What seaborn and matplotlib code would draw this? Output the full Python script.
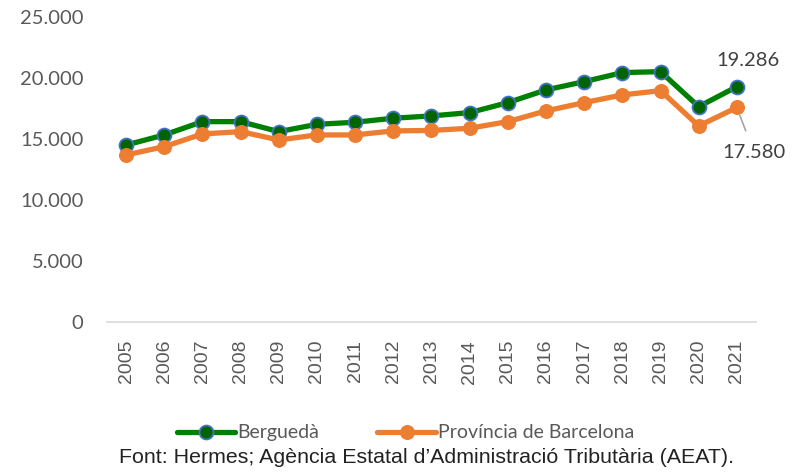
import pandas as pd
import seaborn as sns
import matplotlib.pyplot as plt
from matplotlib.ticker import FuncFormatter

years = [str(y) for y in range(2005, 2022)]
bergueda = [14500, 15330, 16420, 16420, 15600, 16200, 16370, 16700, 16890,
            17160, 17980, 19020, 19700, 20440, 20520, 17650, 19286]
barcelona = [13690, 14370, 15410, 15600, 14920, 15330, 15330, 15660, 15700,
             15880, 16420, 17300, 17980, 18610, 18960, 16070, 17580]

df = pd.DataFrame({
    'Any': years * 2,
    'Valor': bergueda + barcelona,
    'Serie': ['Berguedà'] * len(years) + ['Província de Barcelona'] * len(years),
})

sns.set_style("white")
plt.rcParams['font.family'] = ['Lato', 'DejaVu Sans']

fig = plt.figure(figsize=(8.08, 4.72), dpi=100)
ax = fig.add_axes([0.1324, 0.318, 0.8032, 0.646])

green = '#008000'
orange = '#ED7D31'

sns.lineplot(data=df[df['Serie'] == 'Berguedà'], x='Any', y='Valor', ax=ax,
             color=green, linewidth=3.8, marker='o', markersize=10,
             markerfacecolor='#006400', markeredgecolor='#4472C4',
             markeredgewidth=1.3, label='Berguedà', sort=False)
sns.lineplot(data=df[df['Serie'] == 'Província de Barcelona'], x='Any', y='Valor', ax=ax,
             color=orange, linewidth=3.8, marker='o', markersize=10,
             markerfacecolor=orange, markeredgecolor=orange,
             label='Província de Barcelona', sort=False)

ax.set_xlim(-0.5, len(years) - 0.5)
ax.set_ylim(0, 25000)
ax.set_yticks(range(0, 25001, 5000))
ax.yaxis.set_major_formatter(FuncFormatter(lambda v, p: f'{int(v):,}'.replace(',', '.')))
ax.set_xlabel('')
ax.set_ylabel('')
ax.tick_params(axis='y', labelsize=14.5, labelcolor='#595959', length=0, pad=17)
ax.tick_params(axis='x', labelsize=14, labelcolor='#595959', length=0, rotation=90, pad=13)
for lab in ax.get_xticklabels():
    lab.set_family(['Liberation Sans'])

for s in ['top', 'right', 'left']:
    ax.spines[s].set_visible(False)
ax.spines['bottom'].set_color('#D9D9D9')
ax.spines['bottom'].set_linewidth(1.2)

# data labels for the last year
last = len(years) - 1
ax.annotate('19.286', xy=(last, bergueda[-1]), xytext=(last + 0.29, 21450),
            ha='center', va='center', fontsize=14.5, color='#404040')
ax.annotate('17.580', xy=(last, barcelona[-1]), xytext=(last + 0.45, 13850),
            ha='center', va='center', fontsize=14.5, color='#404040',
            arrowprops=dict(arrowstyle='-', color='#A6A6A6', lw=1.2,
                            relpos=(0.45, 1.0), shrinkA=8, shrinkB=6))

ax.legend(loc='center', bbox_to_anchor=(0.46, -0.364), ncol=2, frameon=False,
          fontsize=14, handlelength=3.0, handletextpad=0.1, columnspacing=3.0,
          labelcolor='#595959')

fig.text(0.528, 0.03, 'Font: Hermes; Agència Estatal d’Administració Tributària (AEAT).',
         ha='center', va='center', fontsize=15.4, family=['Liberation Sans'], color='#222222')

fig.savefig('out.png', dpi=100)
